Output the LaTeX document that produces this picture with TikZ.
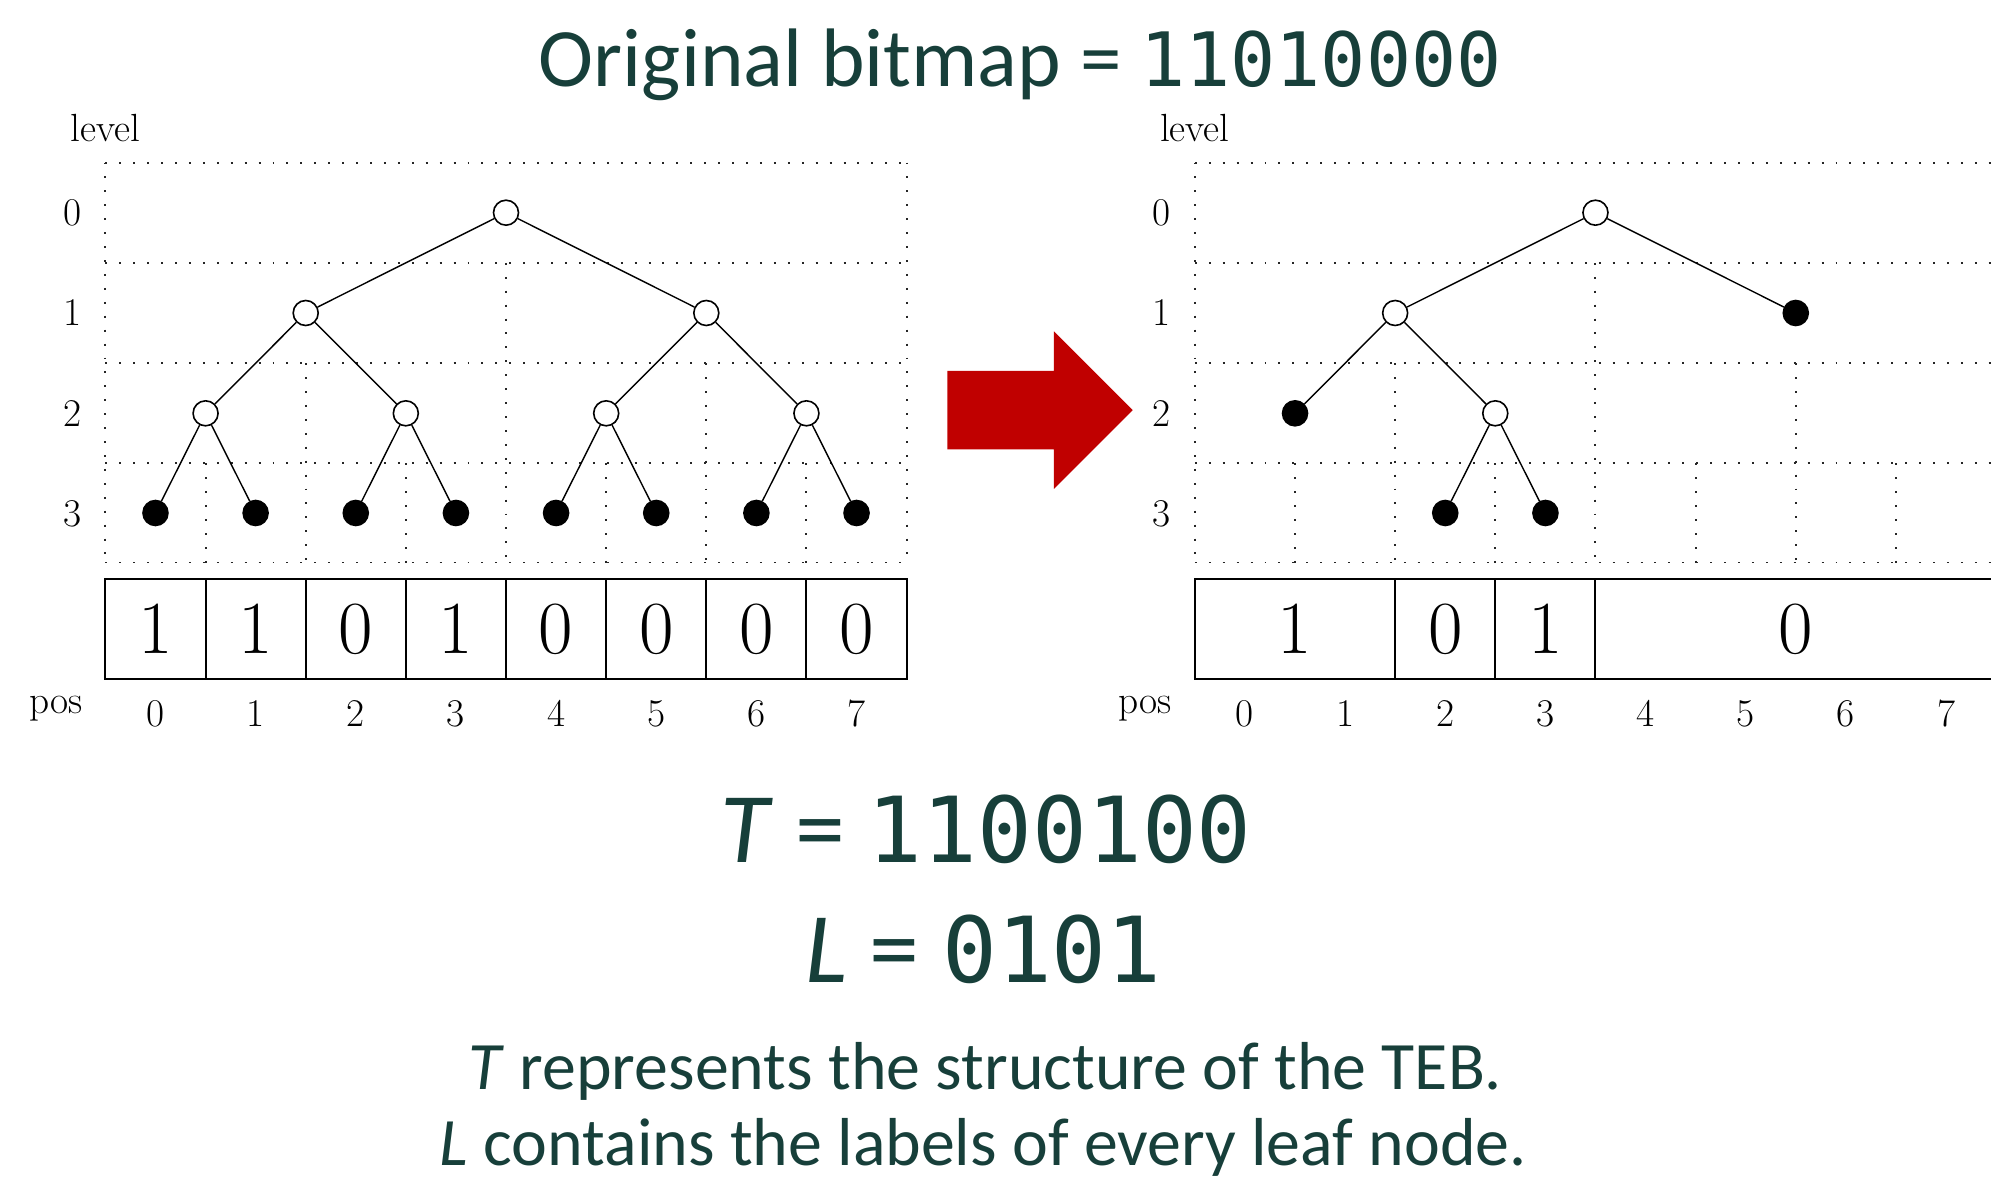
\documentclass[tikz,border=0pt]{standalone}
\usepackage{fontspec}
\newfontfamily\slidefont{Carlito}
\newfontfamily\codefont{DejaVu Sans Mono}
\definecolor{slideteal}{HTML}{173F3A}
\definecolor{arrowred}{HTML}{C00000}

\begin{document}
\begin{tikzpicture}[
    x=0.025cm, y=-0.025cm,
    inner/.style={draw, circle, fill=white, line width=0.9pt, inner sep=0pt, minimum size=14pt},
    leaf/.style={inner, fill=black},
    edge/.style={line width=0.8pt},
    gridline/.style={line width=1.1pt, dash pattern=on 1.1pt off 6.7pt, black!85},
    tag/.style={font=\fontsize{22}{26}\selectfont},
    bit/.style={font=\fontsize{42}{50}\selectfont},
    slide/.style={text=slideteal, anchor=base}
]
    \useasboundingbox (0,0) rectangle (1568,932);

    % Title
    \node[slide] (title) at (803.5,68)
        {\fontsize{46.5}{56}\slidefont Original bitmap = \fontsize{42}{50}\codefont 11010000};

    % Grid, labels and box frame for both panels
    \foreach \ox in {83,941} {
        \begin{scope}[shift={(\ox,0)}]
            \foreach \y in {128,207,286,365,443}
                \draw[gridline] (0,\y) -- (631,\y);
            \draw[gridline] (0,128) -- (0,443);
            \draw[gridline] (631,128) -- (631,443);
            \draw[gridline] (315.5,207) -- (315.5,443);
            \foreach \x in {157.75,473.25}
                \draw[gridline] (\x,286) -- (\x,443);
            \foreach \x in {78.875,236.625,394.375,552.125}
                \draw[gridline] (\x,365) -- (\x,443);
            \node[tag] at (0,101) {level};
            \foreach \l in {0,1,2,3}
                \node[tag] at (-26,167.5+79*\l) {\l};
            \node[tag] at (-39,558) {pos};
            \foreach \p in {0,...,7}
                \node[tag] at (39.44+78.875*\p,562) {\p};
            \draw[line width=1.1pt] (0,456) rectangle (631,535);
        \end{scope}
    }

    % Left tree (complete)
    \node[inner] (r) at (398.5,167.5) {};
    \node[inner] (a) at (240.75,246.5) {};
    \node[inner] (b) at (556.25,246.5) {};
    \node[inner] (aa) at (161.9,325.5) {};
    \node[inner] (ab) at (319.6,325.5) {};
    \node[inner] (ba) at (477.4,325.5) {};
    \node[inner] (bb) at (635.1,325.5) {};
    \foreach \i/\up in {0/aa,1/aa,2/ab,3/ab,4/ba,5/ba,6/bb,7/bb} {
        \node[leaf] (l\i) at (122.44+78.875*\i,404) {};
        \draw[edge] (\up) -- (l\i);
    }
    \draw[edge] (r) -- (a);
    \draw[edge] (r) -- (b);
    \draw[edge] (a) -- (aa);
    \draw[edge] (a) -- (ab);
    \draw[edge] (b) -- (ba);
    \draw[edge] (b) -- (bb);

    % Left bitmap
    \foreach \x in {1,...,7}
        \draw[line width=1.1pt] (83+78.875*\x,456) -- (83+78.875*\x,535);
    \foreach \b [count=\i from 0] in {1,1,0,1,0,0,0,0}
        \node[bit] at (122.44+78.875*\i,495.5) {\b};

    % Arrow
    \fill[arrowred] (746,292) -- (830,292) -- (830,261) -- (892,323)
        -- (830,385) -- (830,354) -- (746,354) -- cycle;

    % Right tree (compressed)
    \node[inner] (R) at (1256.5,167.5) {};
    \node[inner] (A) at (1098.75,246.5) {};
    \node[leaf] (B) at (1414.25,246.5) {};
    \node[leaf] (AA) at (1019.9,325.5) {};
    \node[inner] (AB) at (1177.6,325.5) {};
    \node[leaf] (ABa) at (1138.2,404) {};
    \node[leaf] (ABb) at (1217.1,404) {};
    \draw[edge] (R) -- (A);
    \draw[edge] (R) -- (B);
    \draw[edge] (A) -- (AA);
    \draw[edge] (A) -- (AB);
    \draw[edge] (AB) -- (ABa);
    \draw[edge] (AB) -- (ABb);

    % Right bitmap
    \foreach \x in {2,3,4}
        \draw[line width=1.1pt] (941+78.875*\x,456) -- (941+78.875*\x,535);
    \node[bit] at (1019.9,495.5) {1};
    \node[bit] at (1138.2,495.5) {0};
    \node[bit] at (1217.1,495.5) {1};
    \node[bit] at (1414.25,495.5) {0};

    % Encodings
    \node[slide] (tline) at (776.5,679)
        {\fontsize{56}{64}\slidefont\textit{T} = \fontsize{51}{60}\codefont 1100100};
    \node[slide] (lline) at (774.5,774)
        {\fontsize{56}{64}\slidefont\textit{L} = \fontsize{51}{60}\codefont 0101};
    \node[slide] (note1) at (776,858)
        {\fontsize{38}{46}\slidefont\textit{T} represents the structure of the TEB.};
    \node[slide] (note2) at (774.5,918)
        {\fontsize{38}{46}\slidefont\textit{L} contains the labels of every leaf node.};
\end{tikzpicture}
\end{document}
